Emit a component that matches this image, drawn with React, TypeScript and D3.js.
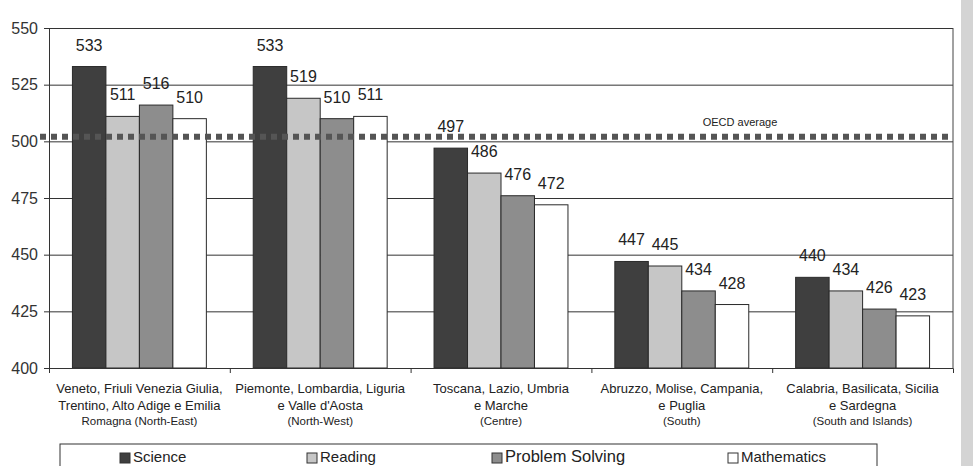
import { useEffect, useRef } from 'react'
import * as d3 from 'd3'

const REGIONS = ['NE', 'NW', 'C', 'S', 'SI']
const REGION_LINES: string[][] = [
  ['Veneto, Friuli Venezia Giulia,', 'Trentino, Alto Adige e Emilia'],
  ['Piemonte, Lombardia, Liguria', "e Valle d'Aosta"],
  ['Toscana, Lazio, Umbria', 'e Marche'],
  ['Abruzzo, Molise, Campania,', 'e Puglia'],
  ['Calabria, Basilicata, Sicilia', 'e Sardegna'],
]
const REGION_SUB = ['Romagna (North-East)', '(North-West)', '(Centre)', '(South)', '(South and Islands)']

const SERIES = ['Science', 'Reading', 'Problem Solving', 'Mathematics']
const SCIENCE = [533, 533, 497, 447, 440]
const READING = [511, 519, 486, 445, 434]
const PROBLEM = [516, 510, 476, 434, 426]
const MATHS = [510, 511, 472, 428, 423]
const OECD_AVG = 502
const Y_TICKS = [400, 425, 450, 475, 500, 525, 550]

const FILLS = ['#3f3f3f', '#c6c6c6', '#8d8d8d', '#ffffff']
const FONT = '"Liberation Sans", Arial, sans-serif'

export default function App() {
  const ref = useRef<SVGSVGElement>(null)

  useEffect(() => {
    if (!ref.current) return
    d3.select(ref.current).selectAll('*').remove()
    render(ref.current)
  }, [])

  return (
    <svg
      ref={ref}
      width={973}
      height={466}
      style={{ position: 'absolute', left: 0, top: 0, display: 'block', background: '#fff' }}
    />
  )
}

function render(el: SVGSVGElement) {
  const svg = d3.select(el).style('font-family', FONT)
  const margin = { top: 28, left: 49, right: 20, bottom: 98 }
  const W = 973
  const H = 466
  const inner = { w: W - margin.left - margin.right, h: H - margin.top - margin.bottom }
  const values = [SCIENCE, READING, PROBLEM, MATHS]

  const g = svg.append('g').attr('transform', `translate(${margin.left},${margin.top})`)

  const x0 = d3.scaleBand().domain(REGIONS).range([0, inner.w]).padding(0)
  const x1 = d3.scaleBand().domain(SERIES).range([0, x0.bandwidth()]).paddingInner(0).paddingOuter(0.7)
  const y = d3.scaleLinear().domain([400, 550]).range([inner.h, 0])

  // scan edge
  svg.append('rect').attr('x', 961).attr('y', 0).attr('width', 12).attr('height', H).attr('fill', '#d4d4d4')

  // Grid
  g.append('g')
    .call(d3.axisLeft(y).tickValues(Y_TICKS).tickSize(-inner.w).tickFormat(() => ''))
    .call((sel) => sel.select('.domain').remove())
    .call((sel) => sel.selectAll('line').attr('stroke', '#333').attr('stroke-width', 1))

  // right border
  g.append('line')
    .attr('x1', inner.w).attr('x2', inner.w)
    .attr('y1', 0).attr('y2', inner.h)
    .attr('stroke', '#444')

  // Bars
  REGIONS.forEach((r, i) => {
    SERIES.forEach((s, j) => {
      const v = values[j][i]
      const bx = x0(r)! + x1(s)!
      g.append('rect')
        .attr('x', bx)
        .attr('y', y(v))
        .attr('width', x1.bandwidth())
        .attr('height', inner.h - y(v))
        .attr('fill', FILLS[j])
        .attr('stroke', '#2a2a2a')
        .attr('stroke-width', 1)
    })
  })

  // OECD average
  g.append('line')
    .attr('x1', -9).attr('x2', inner.w)
    .attr('y1', y(OECD_AVG)).attr('y2', y(OECD_AVG))
    .attr('stroke', '#555')
    .attr('stroke-width', 6)
    .attr('stroke-dasharray', '6,5')
  g.append('text')
    .attr('x', 740 - margin.left)
    .attr('y', y(OECD_AVG) - 11)
    .attr('text-anchor', 'middle')
    .attr('font-size', 11)
    .attr('fill', '#222')
    .text('OECD average')

  // Value labels
  REGIONS.forEach((r, i) => {
    SERIES.forEach((s, j) => {
      const v = values[j][i]
      g.append('text')
        .attr('x', x0(r)! + x1(s)! + x1.bandwidth() / 2)
        .attr('y', y(v) - 16)
        .attr('text-anchor', 'middle')
        .attr('font-size', 16)
        .attr('fill', '#222')
        .text(v)
    })
  })

  // Y axis
  g.append('g')
    .call(d3.axisLeft(y).tickValues(Y_TICKS).tickSize(5).tickPadding(6))
    .call((sel) => sel.select('.domain').attr('stroke', '#333'))
    .call((sel) => sel.selectAll('line').attr('stroke', '#333'))
    .call((sel) =>
      sel.selectAll('text')
        .attr('font-size', 16)
        .attr('fill', '#333')
        .attr('font-family', FONT)
    )

  // X axis
  g.append('g')
    .attr('transform', `translate(0,${inner.h})`)
    .call(
      d3.axisBottom(d3.scaleLinear().domain([0, REGIONS.length]).range([0, inner.w]))
        .tickValues(d3.range(1, REGIONS.length))
        .tickSize(5)
        .tickFormat(() => '')
    )
    .call((sel) => sel.select('.domain').attr('stroke', '#333'))
    .call((sel) => sel.selectAll('line').attr('stroke', '#333'))

  // Category labels
  REGIONS.forEach((r, i) => {
    const cx = x0(r)! + x0.bandwidth() / 2
    REGION_LINES[i].forEach((line, k) => {
      g.append('text')
        .attr('x', cx)
        .attr('y', inner.h + 25 + k * 17)
        .attr('text-anchor', 'middle')
        .attr('font-size', 13)
        .attr('fill', '#222')
        .text(line)
    })
    g.append('text')
      .attr('x', cx)
      .attr('y', inner.h + 57)
      .attr('text-anchor', 'middle')
      .attr('font-size', 11.5)
      .attr('fill', '#222')
      .text(REGION_SUB[i])
  })

  // Legend
  svg.append('rect')
    .attr('x', 60).attr('y', 444)
    .attr('width', 817).attr('height', 40)
    .attr('fill', '#fff')
    .attr('stroke', '#333')
  const legendX = [120, 307, 492, 728]
  const legendSize = [15, 15, 16.5, 15]
  SERIES.forEach((s, j) => {
    svg.append('rect')
      .attr('x', legendX[j]).attr('y', 453)
      .attr('width', 10).attr('height', 10)
      .attr('fill', FILLS[j])
      .attr('stroke', '#333')
    svg.append('text')
      .attr('x', legendX[j] + 13)
      .attr('y', 462)
      .attr('font-size', legendSize[j])
      .attr('fill', '#222')
      .text(s)
  })
}
